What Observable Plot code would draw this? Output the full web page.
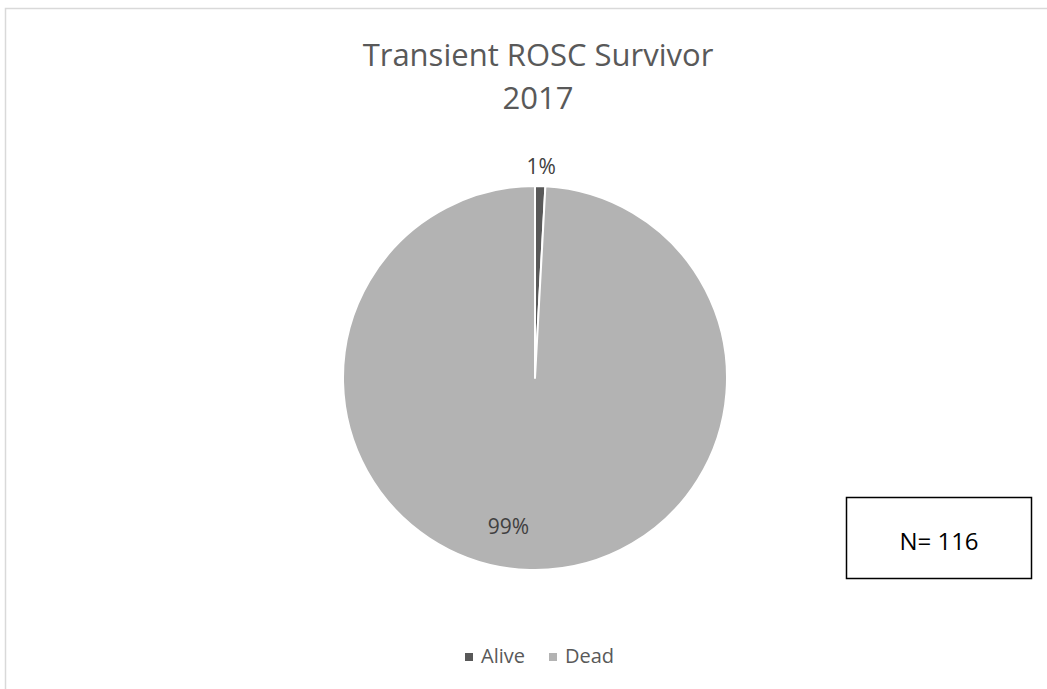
<!DOCTYPE html>
<html>
<head>
<meta charset="utf-8">
<script src="https://cdn.jsdelivr.net/npm/d3@7"></script>
<script src="https://cdn.jsdelivr.net/npm/@observablehq/plot@0.6"></script>
<style>
  html, body { margin: 0; padding: 0; background: #fff; }
  svg { display: block; }
</style>
</head>
<body>
<div id="chart"></div>
<script>
// ---- data ----
const categories = ["Alive", "Dead"];
const counts = [1, 115];
const percentLabels = ["1%", "99%"];
const colors = ["#595959", "#b3b3b3"];
const titleLines = ["Transient ROSC Survivor", "2017"];
const noteText = "N= 116";

const FONT = "'Open Sans', 'Noto Sans', sans-serif";
const W = 1047, H = 689;

const table = categories.map((c, i) => ({category: c, count: counts[i], label: percentLabels[i], color: colors[i]}));
const arcs = d3.pie().value(d => d.count).sort(null)(table);

// label positions in unit (radius = 1) coordinates, from each slice's mid angle
const labelRadius = [1.10, 0.79];
const labelAngleShift = [0, 8.7 * Math.PI / 180];
const labels = arcs.map((a, i) => {
  const ang = (a.startAngle + a.endAngle) / 2 + labelAngleShift[i];
  return {text: a.data.label, x: Math.sin(ang) * labelRadius[i], y: Math.cos(ang) * labelRadius[i]};
});

function pieMark(index, scales) {
  const cx = scales.x(0), cy = scales.y(0);
  const r = scales.x(1) - scales.x(0);
  const g = d3.create("svg:g").attr("transform", `translate(${cx},${cy})`);
  const arc = d3.arc().innerRadius(0).outerRadius(r);
  g.selectAll("path").data(arcs).join("path")
    .attr("d", arc)
    .attr("fill", d => d.data.color)
    .attr("stroke", "#fff")
    .attr("stroke-width", 2)
    .attr("stroke-linejoin", "round");
  return g.node();
}

function frameMarks() {
  const g = d3.create("svg:g");
  // outer chart border (only left/top visible in the picture)
  g.append("rect").attr("x", 5.5).attr("y", 8.5).attr("width", W).attr("height", H)
    .attr("fill", "none").attr("stroke", "#d9d9d9").attr("stroke-width", 1.5);
  // N box
  g.append("rect").attr("x", 846.5).attr("y", 497.5).attr("width", 185).attr("height", 81)
    .attr("fill", "#fff").attr("stroke", "#000").attr("stroke-width", 1.5);
  g.append("text").attr("x", 939).attr("y", 540).attr("text-anchor", "middle")
    .attr("dominant-baseline", "central").attr("font-family", FONT).attr("font-size", 24)
    .attr("fill", "#000").text(noteText);
  // title
  titleLines.forEach((t, i) => {
    g.append("text").attr("x", 538).attr("y", 66 + i * 43).attr("text-anchor", "middle")
      .attr("font-family", FONT).attr("font-size", 31).attr("fill", "#595959").text(t);
  });
  // legend
  const legendX = [465, 549];
  table.forEach((d, i) => {
    g.append("rect").attr("x", legendX[i]).attr("y", 653).attr("width", 8).attr("height", 8).attr("fill", d.color);
    g.append("text").attr("x", legendX[i] + 16).attr("y", 663).attr("text-anchor", "start")
      .attr("font-family", FONT).attr("font-size", 20).attr("fill", "#595959").text(d.category);
  });
  return g.node();
}

const chart = Plot.plot({
  width: W,
  height: H,
  margin: 0,
  style: {background: "#fff", fontFamily: FONT, overflow: "visible"},
  x: {domain: [-1, 1], range: [343, 727], axis: null},
  y: {domain: [-1, 1], range: [570, 186], axis: null},
  marks: [
    frameMarks,
    pieMark,
    Plot.text(labels, {x: "x", y: "y", text: "text", fontSize: 21, fill: "#404040", fontFamily: FONT})
  ]
});
document.getElementById("chart").appendChild(chart);
</script>
</body>
</html>
